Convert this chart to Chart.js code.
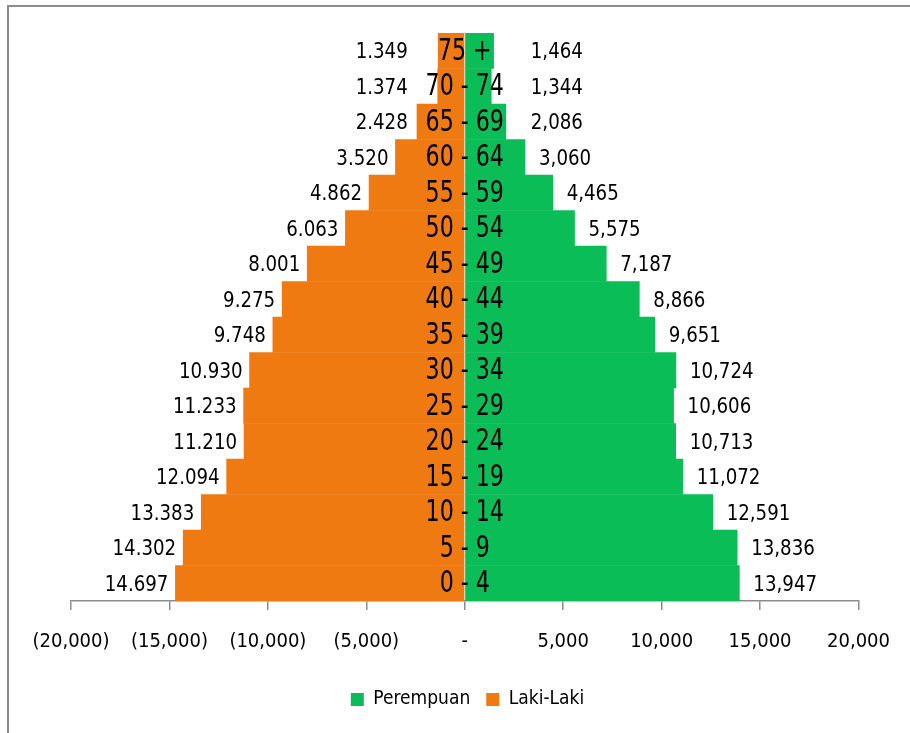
<!DOCTYPE html>
<html>
<head>
<meta charset="utf-8">
<script src="https://cdn.jsdelivr.net/npm/chart.js@4.4.1/dist/chart.umd.min.js"></script>
<style>
html,body{margin:0;padding:0;background:#fff;}
#wrap{position:relative;width:910px;height:733px;}
canvas{display:block;}
</style>
</head>
<body>
<div id="wrap"><canvas id="c" width="910" height="733"></canvas></div>
<script>
const ageGroups = ['0 - 4','5 - 9','10 - 14','15 - 19','20 - 24','25 - 29','30 - 34','35 - 39','40 - 44','45 - 49','50 - 54','55 - 59','60 - 64','65 - 69','70 - 74','75 +'];
const lakiLaki = [14697,14302,13383,12094,11210,11233,10930,9748,9275,8001,6063,4862,3520,2428,1374,1349];
const perempuan = [13947,13836,12591,11072,10713,10606,10724,9651,8866,7187,5575,4465,3060,2086,1344,1464];
const xTicks = [-20000,-15000,-10000,-5000,0,5000,10000,15000,20000];

const FONT = "'DejaVu Sans Condensed','Open Sans',sans-serif";
const ORANGE = '#F07A12';
const GREEN = '#0ABD56';

function fmtComma(v){ return Math.abs(v).toLocaleString('en-US'); }
function fmtDot(v){ return Math.abs(v).toLocaleString('en-US').replace(/,/g,'.'); }

// draw text squeezed horizontally (Calibri-like narrow look)
function narrowText(ctx, text, x, y, align, sx){
  ctx.save();
  ctx.translate(x, y);
  ctx.scale(sx, 1);
  ctx.textAlign = align;
  ctx.fillText(text, 0, 0);
  ctx.restore();
}

const framePlugin = {
  id:'frame',
  beforeDraw(chart){
    const ctx = chart.ctx;
    ctx.save();
    ctx.fillStyle='#fff';
    ctx.fillRect(0,0,chart.width,chart.height);
    ctx.strokeStyle='#8c8c8c';
    ctx.lineWidth=2;
    ctx.beginPath();
    ctx.moveTo(8,chart.height);
    ctx.lineTo(8,6);
    ctx.lineTo(chart.width,6);
    ctx.stroke();
    ctx.restore();
  }
};

const labelPlugin = {
  id:'labels',
  afterDatasetsDraw(chart){
    const ctx = chart.ctx;
    const xs = chart.scales.x, ys = chart.scales.y;
    const x0 = xs.getPixelForValue(0);
    ctx.save();
    ctx.fillStyle='#000';
    ctx.textBaseline='middle';
    // value labels
    ctx.font = '22px ' + FONT;
    for(let i=0;i<ageGroups.length;i++){
      const y = ys.getPixelForValue(i) + 2;
      const lx = Math.min(xs.getPixelForValue(-lakiLaki[i]) - 7, x0 - 57);
      narrowText(ctx, fmtDot(lakiLaki[i]), lx, y, 'right', 0.92);
      const rx = Math.max(xs.getPixelForValue(perempuan[i]) + 14, x0 + 66);
      narrowText(ctx, fmtComma(perempuan[i]), rx, y, 'left', 0.92);
    }
    // age labels
    ctx.font = '30px ' + FONT;
    for(let i=0;i<ageGroups.length;i++){
      narrowText(ctx, ageGroups[i], x0, ys.getPixelForValue(i) + 1, 'center', 0.82);
    }
    ctx.restore();
  }
};

new Chart(document.getElementById('c'), {
  type:'bar',
  data:{
    labels: ageGroups,
    datasets:[
      {label:'Perempuan', data: perempuan, backgroundColor: GREEN, borderWidth:0, barPercentage:1, categoryPercentage:1},
      {label:'Laki-Laki', data: lakiLaki.map(v=>-v), backgroundColor: ORANGE, borderWidth:0, barPercentage:1, categoryPercentage:1}
    ]
  },
  options:{
    indexAxis:'y',
    responsive:false,
    animation:false,
    layout:{padding:{left:71, right:46, top:33, bottom:14}},
    scales:{
      x:{
        min:-20000, max:20000,
        stacked:true,
        afterBuildTicks(s){ s.ticks = xTicks.map(v=>({value:v})); },
        border:{display:true, color:'#8c8c8c', width:1.5},
        grid:{display:true, drawOnChartArea:false, drawTicks:true, tickLength:9, color:'#8c8c8c', lineWidth:1.5},
        ticks:{
          padding:20,
          color:'#000',
          font:{family:FONT, size:20},
          maxRotation:0,
          autoSkip:false,
          callback(v){ v = Number(v); if(v===0) return '-'; return v<0 ? '(' + fmtComma(v) + ')' : fmtComma(v); }
        }
      },
      y:{
        stacked:true,
        reverse:true,
        display:false
      }
    },
    plugins:{
      legend:{
        display:true,
        position:'bottom',
        labels:{
          boxWidth:13, boxHeight:13,
          color:'#000',
          font:{family:FONT, size:19},
          padding:16
        }
      },
      tooltip:{enabled:false}
    }
  },
  plugins:[framePlugin, labelPlugin]
});
</script>
</body>
</html>
